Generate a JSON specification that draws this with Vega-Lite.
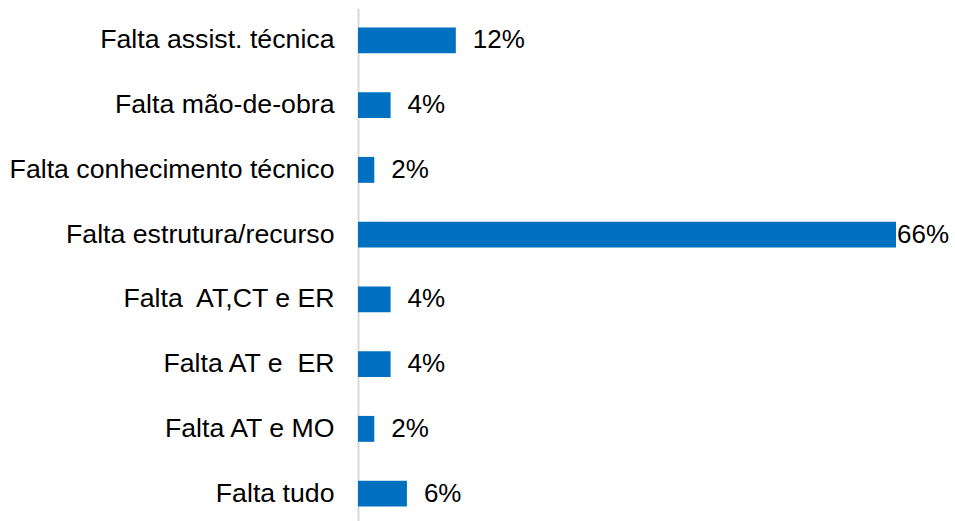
{
  "$schema": "https://vega.github.io/schema/vega-lite/v6.json",
  "width": 538,
  "height": 518,
  "autosize": {"type": "none"},
  "padding": {"left": 358, "top": 8, "right": 59, "bottom": 0},
  "background": "white",
  "config": {"view": {"stroke": null}, "font": "Liberation Sans"},
  "data": {
    "values": [
      {"cat": "Falta assist. técnica", "value": 12, "label": "12%"},
      {"cat": "Falta mão-de-obra", "value": 4, "label": "4%"},
      {"cat": "Falta conhecimento técnico", "value": 2, "label": "2%"},
      {"cat": "Falta estrutura/recurso", "value": 66, "label": "66%"},
      {"cat": "Falta\u00a0 AT,CT e ER", "value": 4, "label": "4%"},
      {"cat": "Falta AT e\u00a0 ER", "value": 4, "label": "4%"},
      {"cat": "Falta AT e MO", "value": 2, "label": "2%"},
      {"cat": "Falta tudo", "value": 6, "label": "6%"}
    ]
  },
  "encoding": {
    "y": {
      "field": "cat",
      "type": "nominal",
      "sort": null,
      "scale": {"paddingInner": 0.6, "paddingOuter": 0.3},
      "axis": {
        "title": null,
        "ticks": false,
        "domainColor": "#d9d9d9",
        "domainWidth": 2,
        "labelFontSize": 26.7,
        "labelColor": "#000000",
        "labelPadding": 24,
        "labelLimit": 400,
        "labelFont": "Liberation Sans"
      }
    },
    "x": {
      "field": "value",
      "type": "quantitative",
      "scale": {"domain": [0, 66], "nice": false, "zero": true},
      "axis": null
    }
  },
  "layer": [
    {"mark": {"type": "bar", "color": "#0070C0"}},
    {
      "transform": [{"filter": "datum.value < 50"}],
      "mark": {"type": "text", "align": "left", "baseline": "middle", "dx": 17, "fontSize": 26, "color": "#000000", "font": "Liberation Sans"},
      "encoding": {"text": {"field": "label"}}
    },
    {
      "transform": [{"filter": "datum.value >= 50"}],
      "mark": {"type": "text", "align": "left", "baseline": "middle", "dx": 1, "fontSize": 26, "color": "#000000", "font": "Liberation Sans"},
      "encoding": {"text": {"field": "label"}}
    }
  ]
}
